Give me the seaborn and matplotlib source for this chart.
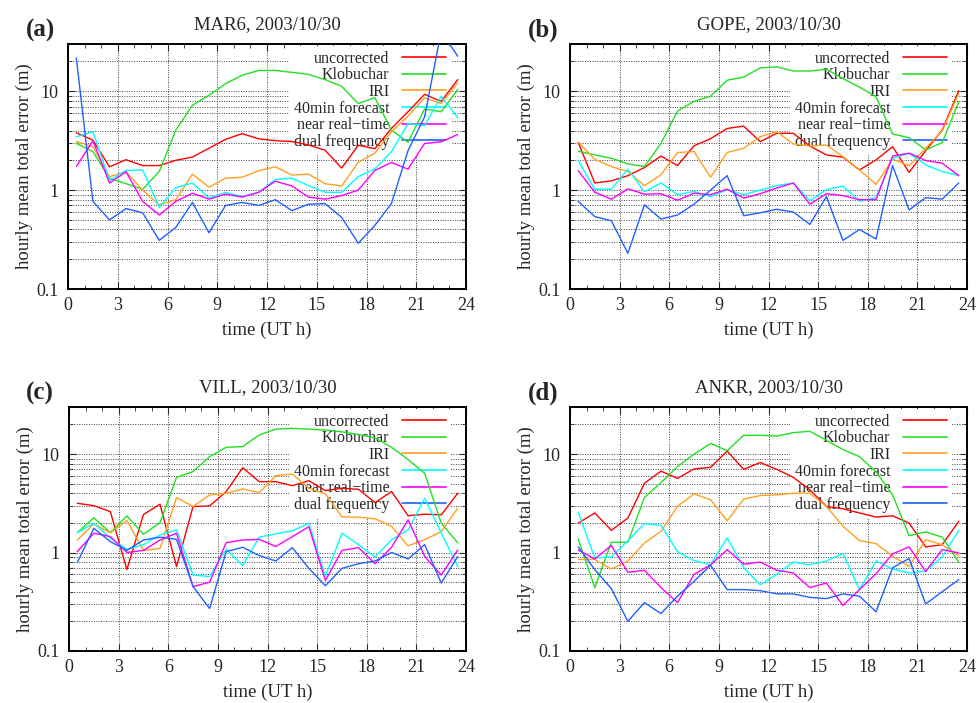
import numpy as np
import pandas as pd
import matplotlib
matplotlib.use("Agg")
import matplotlib.pyplot as plt
import matplotlib.ticker as mticker
import seaborn as sns

# hourly mean values, centred on the half hour
hours = np.arange(24) + 0.5
methods = ["uncorrected", "Klobuchar", "IRI", "40min forecast", "near real\u2212time", "dual frequency"]
colors = ["#ff0000", "#22e022", "#ffa020", "#00ffff", "#ff00ff", "#2060ff"]

# MAR6
mar6_unc = [3.8, 3.2, 1.72, 2.03, 1.77, 1.77, 2.0, 2.16, 2.65, 3.26, 3.72, 3.3, 3.16, 3.1, 2.86, 2.53, 1.67, 2.84, 2.62, 4.2, 6.2, 9.3, 7.9, 13.1]
mar6_klo = [2.97, 2.45, 1.32, 1.16, 1.02, 1.54, 4.05, 7.2, 9.1, 11.9, 14.5, 16.2, 16.2, 15.5, 14.8, 13.1, 11.2, 7.5, 8.6, 4.05, 3.05, 6.6, 6.2, 10.4]
mar6_iri = [3.09, 2.75, 1.37, 1.53, 1.0, 0.71, 0.8, 1.45, 1.07, 1.32, 1.35, 1.57, 1.72, 1.42, 1.45, 1.16, 1.1, 1.91, 2.36, 3.9, 5.6, 8.56, 7.5, 12.1]
mar6_fc40 = [3.46, 3.9, 1.25, 1.58, 1.6, 0.67, 1.06, 1.18, 0.83, 0.95, 0.86, 0.95, 1.28, 1.32, 1.11, 0.95, 0.95, 1.37, 1.64, 2.44, 4.7, 4.5, 8.9, 5.4]
mar6_nrt = [1.73, 3.16, 1.18, 1.53, 0.77, 0.56, 0.77, 0.93, 0.81, 0.91, 0.85, 0.95, 1.23, 1.1, 0.85, 0.81, 0.88, 1.0, 1.58, 1.9, 1.63, 2.96, 3.08, 3.65]
mar6_dual = [21.7, 0.77, 0.5, 0.65, 0.59, 0.31, 0.42, 0.75, 0.37, 0.7, 0.75, 0.7, 0.8, 0.62, 0.72, 0.73, 0.53, 0.29, 0.44, 0.73, 2.5, 5.5, 40.0, 22.6]

# GOPE
gope_unc = [3.02, 1.18, 1.24, 1.4, 1.69, 2.21, 1.77, 2.81, 3.31, 4.2, 4.44, 3.09, 3.75, 3.75, 2.79, 2.27, 2.15, 1.6, 2.02, 2.75, 1.51, 2.5, 4.05, 10.1]
gope_klo = [2.47, 2.27, 2.1, 1.84, 1.73, 2.97, 6.3, 7.9, 8.9, 12.9, 13.9, 17.2, 17.6, 16.0, 16.0, 16.7, 13.4, 11.0, 8.8, 3.69, 3.39, 2.55, 3.02, 7.8]
gope_iri = [3.06, 2.05, 1.73, 1.54, 1.11, 1.43, 2.4, 2.45, 1.35, 2.4, 2.65, 3.47, 3.9, 2.93, 2.79, 2.86, 2.18, 1.6, 1.14, 2.05, 1.76, 2.65, 3.96, 9.5]
gope_fc40 = [1.99, 1.02, 1.02, 1.63, 0.96, 1.18, 0.9, 0.97, 0.86, 1.01, 0.9, 1.0, 1.11, 1.18, 0.78, 1.01, 1.1, 0.77, 0.84, 2.1, 2.36, 1.8, 1.54, 1.4]
gope_nrt = [1.57, 0.95, 0.81, 1.03, 0.91, 0.92, 0.79, 0.93, 0.9, 1.02, 0.83, 0.92, 1.05, 1.18, 0.72, 0.92, 0.88, 0.8, 0.8, 2.21, 2.36, 1.99, 1.87, 1.4]
gope_dual = [0.77, 0.54, 0.49, 0.23, 0.71, 0.51, 0.56, 0.72, 1.0, 1.4, 0.55, 0.59, 0.64, 0.6, 0.45, 0.86, 0.31, 0.4, 0.32, 1.77, 0.63, 0.84, 0.81, 1.18]

# VILL
vill_unc = [3.16, 2.99, 2.6, 0.67, 2.43, 3.09, 0.72, 2.93, 2.97, 4.15, 7.26, 5.24, 5.24, 4.77, 5.36, 4.25, 4.49, 4.38, 3.21, 4.16, 2.36, 2.45, 2.41, 4.0]
vill_klo = [1.59, 2.25, 1.59, 2.35, 1.53, 2.01, 5.8, 6.63, 9.4, 11.7, 11.9, 15.6, 17.9, 18.2, 17.9, 17.5, 16.8, 15.8, 14.6, 11.7, 8.8, 6.36, 1.99, 1.25]
vill_iri = [1.34, 1.95, 1.59, 2.11, 1.05, 1.1, 3.61, 2.93, 3.84, 3.99, 4.42, 4.05, 6.03, 6.27, 4.49, 3.93, 2.3, 2.28, 2.2, 1.84, 1.17, 1.35, 1.63, 2.82]
vill_fc40 = [1.59, 1.98, 1.4, 1.08, 1.2, 1.51, 1.7, 0.59, 0.57, 1.08, 0.74, 1.43, 1.55, 1.66, 1.98, 0.57, 1.57, 1.2, 0.9, 1.35, 1.7, 3.56, 1.58, 0.72]
vill_nrt = [1.02, 1.57, 1.45, 1.0, 1.05, 1.34, 1.57, 0.45, 0.5, 1.26, 1.34, 1.36, 1.15, 1.45, 1.83, 0.52, 1.05, 1.12, 0.77, 1.13, 2.15, 0.91, 0.59, 1.06]
vill_dual = [0.79, 1.76, 1.29, 1.05, 1.34, 1.43, 1.36, 0.45, 0.27, 1.02, 1.13, 0.93, 0.82, 1.12, 0.69, 0.46, 0.69, 0.77, 0.82, 1.0, 0.86, 1.2, 0.49, 0.91]

# ANKR
ankr_unc = [1.99, 2.52, 1.68, 2.24, 5.05, 6.7, 5.66, 7.05, 7.33, 10.7, 6.98, 8.2, 6.98, 5.8, 4.33, 2.94, 2.78, 2.52, 2.29, 2.36, 1.99, 1.14, 1.2, 2.07]
ankr_klo = [1.37, 0.44, 1.27, 1.27, 3.62, 5.13, 7.45, 9.97, 12.8, 10.8, 15.5, 15.5, 15.2, 16.5, 17.0, 13.8, 11.1, 9.4, 6.6, 3.85, 1.48, 1.62, 1.43, 0.8]
ankr_iri = [0.85, 0.85, 0.68, 0.82, 1.25, 1.64, 2.94, 3.94, 3.43, 2.1, 3.48, 3.79, 3.85, 4.0, 4.0, 2.94, 1.85, 1.32, 1.23, 0.92, 0.72, 1.35, 1.2, 0.93]
ankr_fc40 = [2.55, 0.88, 0.9, 1.32, 1.96, 1.89, 1.02, 0.83, 0.75, 1.41, 0.7, 0.47, 0.6, 0.8, 0.75, 0.82, 0.98, 0.42, 0.82, 0.68, 0.62, 0.65, 0.9, 1.68]
ankr_nrt = [1.06, 0.86, 1.18, 0.63, 0.66, 0.44, 0.31, 0.6, 0.75, 1.07, 0.76, 0.8, 0.66, 0.62, 0.44, 0.49, 0.29, 0.42, 0.61, 0.97, 1.14, 0.64, 1.07, 0.99]
ankr_dual = [1.14, 0.67, 0.43, 0.2, 0.31, 0.24, 0.36, 0.51, 0.74, 0.42, 0.42, 0.41, 0.38, 0.38, 0.35, 0.34, 0.38, 0.36, 0.25, 0.7, 0.87, 0.3, 0.4, 0.53]

stations = [
    ("(a)", "MAR6, 2003/10/30", [mar6_unc, mar6_klo, mar6_iri, mar6_fc40, mar6_nrt, mar6_dual]),
    ("(b)", "GOPE, 2003/10/30", [gope_unc, gope_klo, gope_iri, gope_fc40, gope_nrt, gope_dual]),
    ("(c)", "VILL, 2003/10/30", [vill_unc, vill_klo, vill_iri, vill_fc40, vill_nrt, vill_dual]),
    ("(d)", "ANKR, 2003/10/30", [ankr_unc, ankr_klo, ankr_iri, ankr_fc40, ankr_nrt, ankr_dual]),
]


def long_frame(series):
    rows = []
    for name, vals in zip(methods, series):
        rows.append(pd.DataFrame({"time": hours, "error": vals, "method": name}))
    return pd.concat(rows, ignore_index=True)


sns.set_style("ticks")
plt.rcParams["font.family"] = ["Liberation Serif", "DejaVu Serif"]

fig = plt.figure(figsize=(9.76, 7.03), dpi=100)
# axes boxes in figure fractions (left, bottom, width, height)
boxes = [
    (0.0697, 0.5889, 0.4078, 0.3485),
    (0.5840, 0.5889, 0.4068, 0.3485),
    (0.0707, 0.0740, 0.4068, 0.3470),
    (0.5840, 0.0740, 0.4068, 0.3470),
]
letter_pos = [(0.026, 0.957), (0.541, 0.957), (0.026, 0.441), (0.541, 0.441)]

for (letter, title, series), box, lpos in zip(stations, boxes, letter_pos):
    ax = fig.add_axes(box)
    df = long_frame(series)
    sns.lineplot(data=df, x="time", y="error", hue="method", hue_order=methods,
                 palette=colors, estimator=None, errorbar=None, sort=False,
                 linewidth=1.0, ax=ax, zorder=3)
    ax.set_yscale("log")
    ax.set_xlim(0, 24)
    ax.set_ylim(0.1, 30)
    ax.set_xticks(np.arange(0, 25, 3))
    ax.xaxis.set_minor_locator(mticker.MultipleLocator(1))
    ax.set_yticks([0.1, 1, 10], ["0.1", "1", "10"])
    ax.yaxis.set_minor_locator(mticker.LogLocator(base=10, subs=np.arange(2, 10)))
    ax.yaxis.set_minor_formatter(mticker.NullFormatter())
    ax.tick_params(which="both", direction="in", top=True, right=True, labelsize=13)
    ax.tick_params(which="major", length=5, width=0.8)
    ax.tick_params(which="minor", length=3, width=0.6)
    ax.tick_params(axis="y", pad=7)
    ax.tick_params(axis="x", pad=6)
    ax.set_axisbelow(True)
    grid_kw = dict(color="0.25", linestyle=(0, (1, 1.5)), linewidth=0.7)
    ax.grid(True, which="major", axis="x", **grid_kw)
    ax.grid(True, which="both", axis="y", **grid_kw)
    for sp in ax.spines.values():
        sp.set_linewidth(1.4)
        sp.set_color("black")
    ax.set_xlabel("time (UT h)", fontsize=13.5, labelpad=5)
    ax.set_ylabel("hourly mean total error (m)", fontsize=13.5, labelpad=2)
    ax.set_title(title, fontsize=13.5, pad=11)

    # gnuplot-style key: right-aligned text, sample line to the right
    handles, labels = ax.get_legend_handles_labels()
    leg = ax.legend(handles, labels, loc="upper right", bbox_to_anchor=(0.962, 0.992),
                    markerfirst=False, fontsize=11.5, handlelength=2.75,
                    handletextpad=0.8, labelspacing=0.04, borderpad=0.3,
                    borderaxespad=0.0, frameon=True, fancybox=False,
                    framealpha=1.0, facecolor="white", edgecolor="none")
    leg.set_zorder(2)
    for ln in leg.get_lines():
        ln.set_linewidth(1.2)

    fig.text(lpos[0], lpos[1], letter, fontsize=18, fontweight="bold",
             ha="left", va="center")

fig.savefig("out.png", dpi=100)
